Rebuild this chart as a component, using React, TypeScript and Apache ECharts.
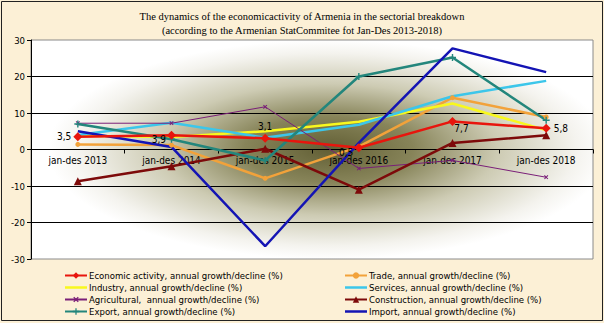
import React, { useEffect, useRef } from "react";
import * as echarts from "echarts";

const categories = ["jan-des 2013", "jan-des 2014", "jan-des 2015", "jan-des 2016", "jan-des 2017", "jan-des 2018"];
const economic = [3.5, 3.9, 3.1, 0.5, 7.7, 5.8];
const trade = [1.4, 1.2, -7.9, 0.8, 14.2, 8.9];
const industry = [3.8, 3.4, 5.0, 7.6, 12.6, 5.3];
const services = [4.0, 7.3, 3.2, 6.8, 14.6, 18.8];
const agricultural = [7.2, 7.2, 11.7, -5.2, -3.0, -7.6];
const construction = [-8.7, -4.6, 0.2, -11.0, 1.8, 3.9];
const exportVals = [7.0, 2.8, -3.0, 20.0, 25.2, 8.0];
const importVals = [5.0, 0.7, -26.5, 1.8, 27.7, 21.2];

const seriesNames = [
  "Economic activity, annual growth/decline (%)",
  "Trade, annual growth/decline (%)",
  "Industry, annual growth/decline (%)",
  "Services, annual growth/decline (%)",
  "Agricultural,  annual growth/decline (%)",
  "Construction, annual growth/decline (%)",
  "Export, annual growth/decline (%)",
  "Import, annual growth/decline (%)",
];

const narrow = "'Liberation Sans Narrow', 'DejaVu Sans Condensed', 'Arial Narrow', sans-serif";
const plusPath = "path://M4,0h2v4h4v2h-4v4h-2v-4h-4v-2h4z";
const lineIcon = "path://M0,0L0.01,0ZM0,8L0.01,8ZM0,2.75h22v2.5h-22z";

export default function App() {
  const ref = useRef<HTMLDivElement>(null);
  useEffect(() => {
    document.body.style.margin = "0";
    const chart = echarts.init(ref.current!, null, { renderer: "svg" });
    const labelCfg: any[] = [
      { position: "left", distance: 2, offset: [0, 0] },
      { position: "left", distance: 1, offset: [0, 4] },
      { position: "top", distance: 2, offset: [0, 0] },
      { position: "left", distance: 1, offset: [0, 5] },
      { position: "bottom", distance: 0, offset: [9, -2] },
      { position: "right", distance: 3, offset: [0, 0] },
    ];
    const econData = economic.map((v, i) => ({ value: v, label: labelCfg[i] }));
    const line = (name: string, data: any[], color: string, extra: any = {}) => ({
      type: "line",
      name,
      data,
      symbol: "none",
      lineStyle: { color, width: 2.5 },
      itemStyle: { color },
      ...extra,
    });
    const legendBase = {
      orient: "vertical",
      top: 270,
      height: 52,
      padding: 0,
      itemWidth: 22,
      itemHeight: 8,
      itemGap: 1,
      textStyle: { fontFamily: narrow, fontSize: 9.5, color: "#000", lineHeight: 11, padding: [0, 0, 0, -3] },
    };
    chart.setOption({
      animation: false,
      backgroundColor: "#fcf0d6",
      title: {
        text: "The dynamics of the economicactivity of Armenia in the sectorial breakdown\n(according to the Armenian StatCommitee fot Jan-Des 2013-2018)",
        left: "center",
        top: 4,
        textStyle: { fontFamily: "'Liberation Serif', serif", fontSize: 10.5, fontWeight: "normal", color: "#000", lineHeight: 14 },
      },
      graphic: [
        { type: "rect", shape: { x: 1.5, y: 1.5, width: 601, height: 319 }, style: { fill: "none", stroke: "#222", lineWidth: 1 }, silent: true },
      ],
      grid: {
        left: 31,
        right: 11,
        top: 40,
        bottom: 64,
        show: true,
        borderColor: "#8a8a8a",
        borderWidth: 1,
        backgroundColor: new echarts.graphic.RadialGradient(0.53, 0.5, 0.5, [
          { offset: 0, color: "#625f35" },
          { offset: 0.3, color: "#878459" },
          { offset: 0.6, color: "#cdcbb3" },
          { offset: 0.88, color: "#f4f3ee" },
          { offset: 1, color: "#ffffff" },
        ]),
      },
      legend: [
        {
          ...legendBase,
          data: [seriesNames[0], { name: seriesNames[2], icon: lineIcon }, seriesNames[4], seriesNames[6]],
          left: 64,
        },
        {
          ...legendBase,
          data: [seriesNames[1], { name: seriesNames[3], icon: lineIcon }, seriesNames[5], { name: seriesNames[7], icon: lineIcon }],
          left: 344,
        },
      ],
      xAxis: {
        type: "category",
        data: categories,
        position: "bottom",
        offset: -109.5,
        axisLine: { onZero: false, lineStyle: { color: "#000", width: 1 } },
        axisTick: { show: true, length: 4, lineStyle: { color: "#000" } },
        axisLabel: { fontFamily: narrow, fontSize: 10, color: "#000", margin: 6 },
        splitLine: { show: false },
      },
      yAxis: {
        type: "value",
        min: -30,
        max: 30,
        interval: 10,
        axisLine: { show: true, lineStyle: { color: "#000", width: 1 } },
        axisTick: { show: true, length: 4, lineStyle: { color: "#000" } },
        axisLabel: { fontFamily: narrow, fontSize: 9.5, color: "#000", margin: 6 },
        splitLine: { show: true, showMinLine: false, showMaxLine: false, lineStyle: { color: "#000", width: 1 } },
      },
      series: [
        line(seriesNames[0], econData, "#e8150d", {
          symbol: "diamond",
          symbolSize: 9,
          z: 5,
          label: {
            show: true,
            fontFamily: narrow,
            fontSize: 10,
            color: "#000",
            formatter: (p: any) => String(p.value).replace(".", ","),
          },
        }),
        line(seriesNames[1], trade, "#f2a23a", { symbol: "circle", symbolSize: 5 }),
        line(seriesNames[2], industry, "#f8f81e"),
        line(seriesNames[3], services, "#3cc6ea"),
        line(seriesNames[4], agricultural, "#7a1f78", {
          symbol: plusPath,
          symbolSize: 5,
          symbolRotate: 45,
          lineStyle: { color: "#7a1f78", width: 1 },
        }),
        line(seriesNames[5], construction, "#7d0a0a", { symbol: "triangle", symbolSize: 8 }),
        line(seriesNames[6], exportVals, "#23867c", { symbol: plusPath, symbolSize: 7 }),
        line(seriesNames[7], importVals, "#1414b4"),
      ],
    });
    return () => chart.dispose();
  }, []);
  return <div ref={ref} style={{ width: 604, height: 323, position: "absolute", left: 0, top: 0 }} />;
}
